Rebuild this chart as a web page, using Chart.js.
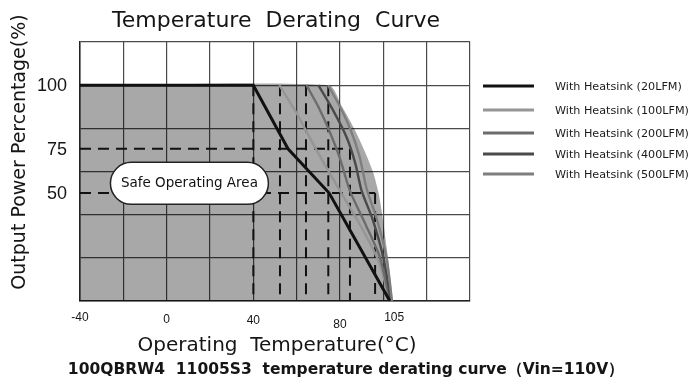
<!DOCTYPE html>
<html>
<head>
<meta charset="utf-8">
<script src="https://cdn.jsdelivr.net/npm/chart.js@4.4.0/dist/chart.umd.min.js"></script>
<style>
  html, body { margin: 0; padding: 0; background: #fff; }
  #wrap { width: 697px; height: 381px; }
</style>
</head>
<body>
<div id="wrap"><canvas id="chart" width="697" height="381"></canvas></div>
<script>
// series: temperature (°C) and output power (%)
const seriesLabels = [
  'With Heatsink (20LFM)',
  'With Heatsink (100LFM)',
  'With Heatsink (200LFM)',
  'With Heatsink (400LFM)',
  'With Heatsink (500LFM)'
];
const temp20   = [-40, 40, 56, 75, 89, 103];
const power20  = [100, 100, 70.5, 50, 25, 0];
const temp100  = [52, 60, 68, 80, 90, 98, 103];
const power100 = [100, 87, 72, 51, 34, 18, 0];
const temp200  = [64.5, 70, 75, 80, 84.6, 92, 98.5, 103];
const power200 = [100, 90, 79, 66, 51, 35, 20, 0];
const temp400  = [70, 77, 83, 87, 90, 95, 100, 103.5];
const power400 = [100, 88, 76, 64, 51, 38, 20, 0];
const temp500  = [74.5, 80, 85, 89, 92.3, 97, 101.5, 104];
const power500 = [100, 90, 79, 67, 52, 38, 20, 0];

// safe operating area outline
const tempArea  = [-40, 75, 81, 87, 92, 95.5, 97.8, 99.5, 101.5, 104.5];
const powerArea = [100, 100, 90, 79, 68, 59, 50, 40, 25, 0];

// dashed guide lines
const guideTemps  = [40, 52.3, 64.3, 74.6, 84.6, 96.2];
const guideTops   = [100, 100, 100, 100, 70.5, 50];
const guideLevels = [70.5, 50];
const guideEnds   = [84.6, 96.2];

// tick labels
const xTickValues = [-40, 0, 40, 80, 105];
const yTickValues = [100, 70.5, 50];
const yTickLabels = ['100', '75', '50'];

const FONT = '"DejaVu Sans", sans-serif';

function pts(xs, ys) {
  return xs.map((x, i) => ({ x, y: ys[i] }));
}

const lineColors = ['#111111', '#959595', '#6c6c6c', '#4a4a4a', '#7e7e7e'];
const curveData = [
  pts(temp20, power20),
  pts(temp100, power100),
  pts(temp200, power200),
  pts(temp400, power400),
  pts(temp500, power500)
];

const datasets = [];
curveData.forEach((d, i) => {
  datasets.push({
    label: seriesLabels[i],
    data: d,
    borderColor: lineColors[i],
    borderWidth: i === 0 ? 3 : 2.4,
    pointRadius: 0,
    fill: false,
    tension: i === 0 ? 0 : 0.25
  });
});
// black line on top
const curves = [datasets[0], datasets[4], datasets[3], datasets[2], datasets[1]];

const guides = [];
guideTemps.forEach((t, i) => {
  guides.push({ data: pts([t, t], [guideTops[i], 0]) });
});
guideLevels.forEach((lv, i) => {
  guides.push({ data: pts([-40, guideEnds[i]], [lv, lv]) });
});
guides.forEach(g => {
  Object.assign(g, {
    label: '',
    borderColor: '#111',
    borderWidth: 2,
    borderDash: [11, 7],
    pointRadius: 0,
    fill: false
  });
});

const area = {
  label: '',
  data: pts(tempArea, powerArea),
  borderWidth: 0,
  borderColor: 'rgba(0,0,0,0)',
  backgroundColor: 'rgba(0,0,0,0.34)',
  pointRadius: 0,
  fill: 'origin',
  tension: 0.2
};

const decor = {
  id: 'decor',
  afterDatasetsDraw(chart) {
    const ctx = chart.ctx;
    const xs = chart.scales.x, ys = chart.scales.y;
    ctx.save();

    // Safe Operating Area pill
    const cx = xs.getPixelForValue(10.5), cy = ys.getPixelForValue(54.5);
    const w = 158, h = 42;
    ctx.beginPath();
    ctx.roundRect(cx - w / 2, cy - h / 2, w, h, h / 2);
    ctx.fillStyle = '#fff';
    ctx.fill();
    ctx.lineWidth = 1.5;
    ctx.strokeStyle = '#222';
    ctx.stroke();
    ctx.fillStyle = '#111';
    ctx.font = '13.5px ' + FONT;
    ctx.textAlign = 'center';
    ctx.textBaseline = 'middle';
    ctx.fillText('Safe Operating Area', cx, cy);
    ctx.restore();
  },
  afterDraw(chart) {
    const ctx = chart.ctx;
    const xs = chart.scales.x, ys = chart.scales.y;
    const area = chart.chartArea;
    ctx.save();
    ctx.fillStyle = '#151515';
    ctx.textAlign = 'center';
    ctx.textBaseline = 'middle';

    // x tick labels (staggered as in the source)
    const dy = [17, 19, 20, 24, 17];
    ctx.font = '12px "Liberation Sans", sans-serif';
    xTickValues.forEach((v, i) => {
      ctx.fillText(String(v), xs.getPixelForValue(v), area.bottom + dy[i]);
    });

    // y tick labels
    ctx.font = '18px "Liberation Sans", sans-serif';
    ctx.textAlign = 'right';
    yTickValues.forEach((v, i) => {
      ctx.fillText(yTickLabels[i], 67, ys.getPixelForValue(v) + 1);
    });

    // titles
    ctx.textAlign = 'center';
    ctx.font = '22px ' + FONT;
    ctx.fillText('Temperature  Derating  Curve', 276, 21);
    ctx.font = '20px ' + FONT;
    ctx.fillText('Operating  Temperature(°C)', 277, 346);
    ctx.font = 'bold 15.5px ' + FONT;
    ctx.fillText('100QBRW4  11005S3  temperature derating curve（Vin=110V）', 346, 370);

    ctx.save();
    ctx.translate(20, 152);
    ctx.rotate(-Math.PI / 2);
    ctx.font = '19px ' + FONT;
    ctx.fillText('Output Power Percentage(%)', 0, 0);
    ctx.restore();

    // legend on the right
    const rows = [86, 110, 133, 154, 174];
    ctx.font = '11.2px ' + FONT;
    ctx.textAlign = 'left';
    datasets.forEach((d, i) => {
      ctx.beginPath();
      ctx.moveTo(483, rows[i]);
      ctx.lineTo(534, rows[i]);
      ctx.lineWidth = 3;
      ctx.strokeStyle = d.borderColor;
      ctx.stroke();
      ctx.fillStyle = '#1a1a1a';
      ctx.fillText(d.label, 555, rows[i] + 1);
    });
    ctx.restore();
  }
};

new Chart(document.getElementById('chart').getContext('2d'), {
  type: 'line',
  data: { datasets: [...curves, ...guides, area] },
  options: {
    responsive: false,
    animation: false,
    layout: { padding: { left: 80, right: 227, top: 42, bottom: 80 } },
    plugins: { legend: { display: false }, tooltip: { enabled: false } },
    scales: {
      x: {
        type: 'linear', min: -40, max: 140,
        ticks: { stepSize: 20, display: false },
        grid: { color: '#4a4a4a', lineWidth: 1.2, drawTicks: false },
        border: { color: '#222', width: 1.5 }
      },
      y: {
        min: 0, max: 120,
        ticks: { stepSize: 20, display: false },
        grid: { color: '#4a4a4a', lineWidth: 1.2, drawTicks: false },
        border: { color: '#222', width: 1.5 }
      }
    }
  },
  plugins: [decor]
});
</script>
</body>
</html>
